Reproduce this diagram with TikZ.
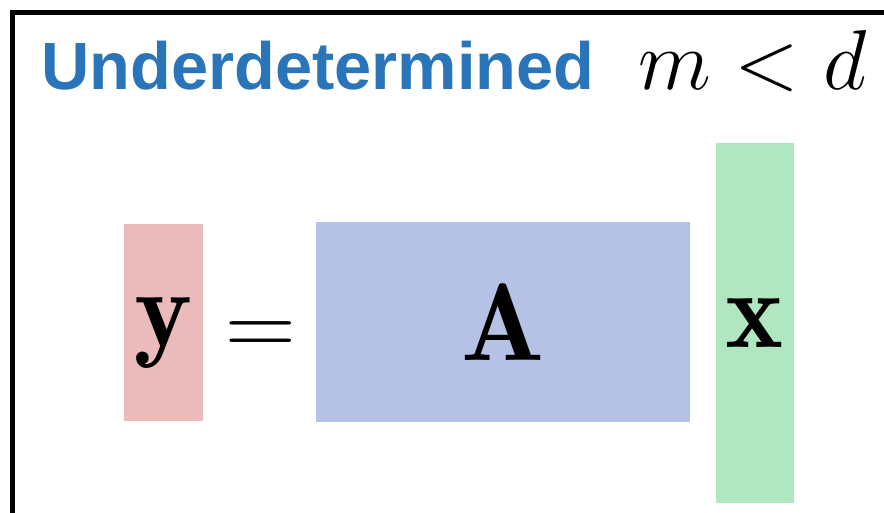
\RequirePackage{fix-cm}
\documentclass[tikz,border=0pt]{standalone}
\usepackage{fontspec}
\newfontfamily\titlefont{Liberation Sans}
\usetikzlibrary{positioning,calc}
\definecolor{azul}{HTML}{2A74BA}
\definecolor{rosa}{HTML}{EBBBBB}
\definecolor{lila}{HTML}{B6C1E6}
\definecolor{verde}{HTML}{B0E6C0}

\begin{document}
\begin{tikzpicture}[x=0.5pt, y=-0.5pt,
      mat/.style={font=\fontsize{55}{60}\selectfont},
      b/.style={inner sep=0pt, mat}]
    \useasboundingbox (0,0) rectangle (884,513);
    \draw[line width=2.5pt] (12.5,12.5) rectangle (900,530);
    \node[anchor=base west, inner sep=0pt, text=azul,
          font=\titlefont\bfseries\fontsize{33.4}{36}\selectfont] (tit) at (41,90) {Underdetermined};
    \node[anchor=base west, inner sep=0pt, font=\fontsize{42.5}{46}\selectfont] (cond) at (638,90) {$m<d$};
    \node[b, fill=rosa, minimum width=39.5pt, minimum height=98.5pt, text depth=0pt] (y) at (163.5,322.5) {$\mathbf{y}$};
    \node[b, fill=lila, minimum width=187pt, minimum height=100pt] (A) at (503,322) {$\mathbf{A}$};
    \node[b, fill=verde, minimum width=39pt, minimum height=180pt] (x) at (755,323) {$\mathbf{x}$};
    \node[inner sep=0pt, font=\fontsize{49}{53}\selectfont] (eq) at (260.5,339) {$=$};
  \end{tikzpicture}
\end{document}
